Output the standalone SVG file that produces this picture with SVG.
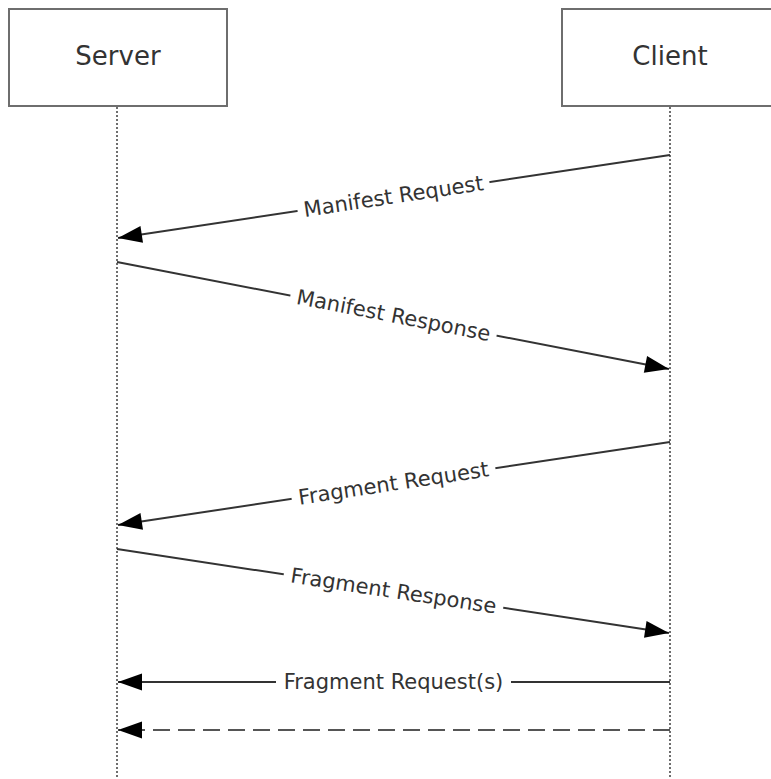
<svg xmlns="http://www.w3.org/2000/svg" width="771" height="779" viewBox="0 0 771 779">
<style>
.box{fill:#fff;stroke:#6e6e6e;stroke-width:2}
.name{font-family:"DejaVu Sans",Verdana,sans-serif;font-size:26px;fill:#333;text-anchor:middle;dominant-baseline:central}
.life{stroke:#6e6e6e;stroke-width:2;stroke-dasharray:2,2;fill:none}
.msg{stroke:#333;stroke-width:2;fill:none;marker-end:url(#ah)}
.dash{stroke:#555;stroke-width:2;stroke-dasharray:17,8;fill:none;marker-end:url(#ah)}
.lbl{font-family:"DejaVu Sans",Verdana,sans-serif;font-size:21px;fill:#333;text-anchor:middle;dominant-baseline:central}
.bg{fill:#fff}
</style>
<defs>
<marker id="ah" markerUnits="userSpaceOnUse" markerWidth="26" markerHeight="20" refX="25" refY="10" orient="auto">
<path d="M1,1.5 L25,10 L1,18.5 z" fill="#000"/>
</marker>
</defs>
<rect width="771" height="779" fill="#fff"/>
<g id="server">
<rect class="box" x="9" y="9" width="218" height="97"/>
<text class="name" x="118" y="56">Server</text>
<line class="life" x1="117" y1="107" x2="117" y2="779"/>
</g>
<g id="client">
<rect class="box" x="562" y="9" width="220" height="97"/>
<text class="name" x="670" y="56">Client</text>
<line class="life" x1="670" y1="107" x2="670" y2="779"/>
</g>
<g id="connectors">
<g id="m1">
<line class="msg" x1="670" y1="155" x2="118" y2="238"/>
<g transform="translate(393.5,196.5) rotate(-8.54)">
<rect class="bg" x="-97" y="-13" width="194" height="26"/>
<text class="lbl" x="0" y="0">Manifest Request</text>
</g>
</g>
<g id="m2">
<line class="msg" x1="117" y1="262" x2="669" y2="369"/>
<g transform="translate(393.5,315.5) rotate(10.95)">
<rect class="bg" x="-105" y="-13" width="210" height="26"/>
<text class="lbl" x="0" y="0">Manifest Response</text>
</g>
</g>
<g id="m3">
<line class="msg" x1="670" y1="442" x2="118" y2="525"/>
<g transform="translate(393.5,483.5) rotate(-8.54)">
<rect class="bg" x="-103" y="-13" width="206" height="26"/>
<text class="lbl" x="0" y="0">Fragment Request</text>
</g>
</g>
<g id="m4">
<line class="msg" x1="117" y1="549" x2="669" y2="633"/>
<g transform="translate(393.5,591) rotate(8.64)">
<rect class="bg" x="-111" y="-13" width="222" height="26"/>
<text class="lbl" x="0" y="0">Fragment Response</text>
</g>
</g>
<g id="m5">
<line class="msg" x1="670" y1="682" x2="118" y2="682"/>
<rect class="bg" x="276" y="669" width="235" height="26"/>
<text class="lbl" x="393.5" y="682">Fragment Request(s)</text>
</g>
<g id="m6">
<line class="dash" x1="670" y1="730" x2="118" y2="730"/>
</g>
</g>
</svg>
